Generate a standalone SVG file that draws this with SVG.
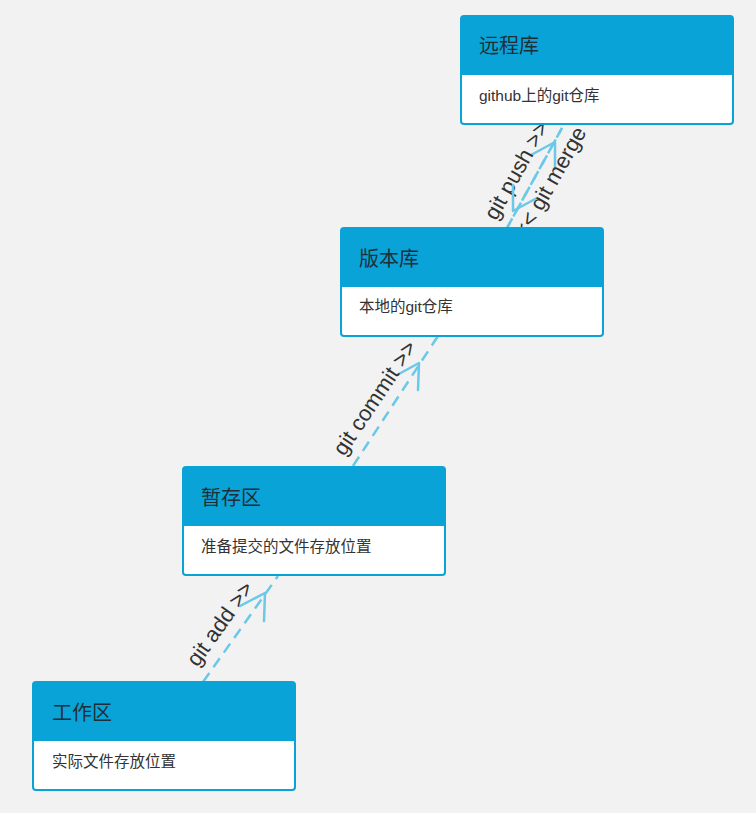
<svg xmlns="http://www.w3.org/2000/svg" width="756" height="813" viewBox="0 0 756 813">
<defs>
<style>
.bg{fill:#f2f2f2}
.box{fill:#ffffff;stroke:#0aa3d7;stroke-width:2}
.hdr{fill:#0aa3d7}
.title{font-family:"Liberation Sans","Noto Sans CJK SC",sans-serif;font-size:20px;fill:#1f2f38}
.body{font-family:"Liberation Sans","Noto Sans CJK SC",sans-serif;font-size:15.5px;fill:#333333}
.edge{fill:none;stroke:#6cc8e8;stroke-width:2.5;stroke-dasharray:11 7}
.head{fill:none;stroke:#6cc8e8;stroke-width:2.5;stroke-linecap:round;stroke-linejoin:round}
.lbl{font-family:"Liberation Sans","Noto Sans CJK SC",sans-serif;font-size:22px;fill:#333333}
</style>
</defs>
<rect class="bg" x="0" y="0" width="756" height="813"/>
<g id="connectors">
  <g id="e-add">
    <line class="edge" x1="203" y1="682" x2="278" y2="576"/>
    <polyline class="head" points="240,606 265,593 264,621"/>
    <text class="lbl" text-anchor="middle" transform="translate(226,628) rotate(-54.5)">git add &gt;&gt;</text>
  </g>
  <g id="e-commit">
    <line class="edge" x1="353" y1="466" x2="438" y2="336"/>
    <polyline class="head" points="397,375 419,363 418,390"/>
    <text class="lbl" text-anchor="middle" transform="translate(381,402) rotate(-56.3)">git commit &gt;&gt;</text>
  </g>
  <g id="e-push">
    <line class="edge" x1="507" y1="228" x2="562" y2="128"/>
    <polyline class="head" points="531,155 555,142 555,169"/>
    <text class="lbl" text-anchor="middle" transform="translate(523,174) rotate(-60.7)">git push &gt;&gt;</text>
  </g>
  <g id="e-merge">
    <line class="edge" x1="562" y1="128" x2="507" y2="228"/>
    <polyline class="head" points="513,185 513,211 537,198"/>
    <text class="lbl" text-anchor="end" transform="translate(587,132) rotate(-60.7)">&lt;&lt; git merge</text>
  </g>
</g>
<g id="node-remote">
  <rect class="box" x="461" y="16" width="272" height="108" rx="3"/>
  <path class="hdr" d="M461,19 a3,3 0 0 1 3,-3 h266 a3,3 0 0 1 3,3 v56 h-272 z"/>
  <text class="title" x="479" y="53">远程库</text>
  <text class="body" x="479" y="101">github上的git仓库</text>
</g>
<g id="node-repo">
  <rect class="box" x="341" y="228" width="262" height="108" rx="3"/>
  <path class="hdr" d="M341,231 a3,3 0 0 1 3,-3 h256 a3,3 0 0 1 3,3 v56 h-262 z"/>
  <text class="title" x="359" y="266">版本库</text>
  <text class="body" x="359" y="312">本地的git仓库</text>
</g>
<g id="node-stage">
  <rect class="box" x="183" y="467" width="262" height="108" rx="3"/>
  <path class="hdr" d="M183,470 a3,3 0 0 1 3,-3 h256 a3,3 0 0 1 3,3 v56 h-262 z"/>
  <text class="title" x="201" y="505">暂存区</text>
  <text class="body" x="201" y="552">准备提交的文件存放位置</text>
</g>
<g id="node-work">
  <rect class="box" x="33" y="682" width="262" height="108" rx="3"/>
  <path class="hdr" d="M33,685 a3,3 0 0 1 3,-3 h256 a3,3 0 0 1 3,3 v56 h-262 z"/>
  <text class="title" x="52" y="720">工作区</text>
  <text class="body" x="52" y="767">实际文件存放位置</text>
</g>
</svg>
